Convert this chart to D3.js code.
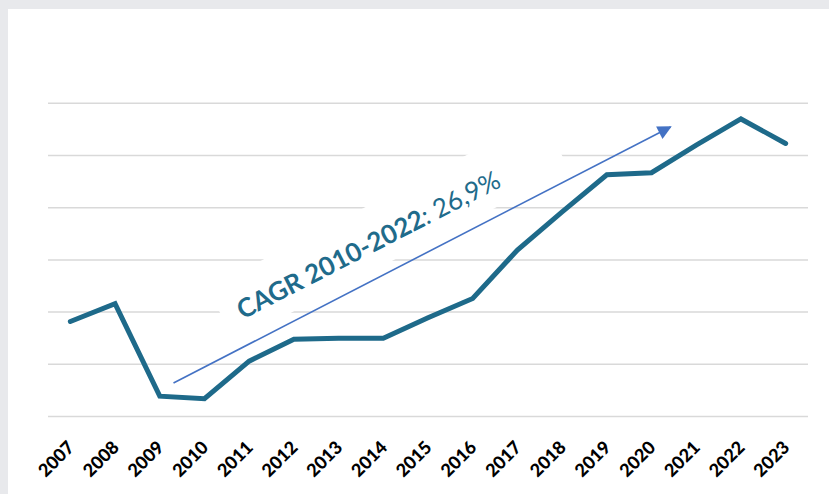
<!DOCTYPE html>
<html>
<head>
<meta charset="utf-8">
<script src="https://cdn.jsdelivr.net/npm/d3@7"></script>
<style>
  html, body { margin: 0; padding: 0; background: #e8e9ec; }
  svg { display: block; }
</style>
</head>
<body>
<svg id="chart" width="829" height="494"></svg>
<script>
// Yearly series (index units, gridline every 1.0)
const years = ["2007","2008","2009","2010","2011","2012","2013","2014","2015",
               "2016","2017","2018","2019","2020","2021","2022","2023"];
const values = [1.82, 2.16, 0.39, 0.34, 1.06, 1.48, 1.50, 1.50, 1.89,
                2.26, 3.19, 3.92, 4.63, 4.67, 5.20, 5.70, 5.23];
const gridTicks = [0, 1, 2, 3, 4, 5, 6];
const labelBold = "CAGR 2010-2022";
const labelRest = ": 26,9%";

const svg = d3.select("#chart");
const W = 829, H = 494;

// White chart panel on the grey page
svg.append("rect").attr("x", 8).attr("y", 9).attr("width", W - 8).attr("height", H - 9)
  .attr("fill", "#ffffff");

const x = d3.scaleBand().domain(years).range([48, 808]).padding(0);
const y = d3.scaleLinear().domain([0, 6]).range([416.5, 103.3]);
const cx = d => x(d) + x.bandwidth() / 2;

// Horizontal gridlines
svg.append("g").selectAll("line").data(gridTicks).join("line")
  .attr("x1", 48).attr("x2", 808)
  .attr("y1", d => y(d)).attr("y2", d => y(d))
  .attr("stroke", "#d9d9d9").attr("stroke-width", 1.5);

// Category labels, rotated
const xAxis = d3.axisBottom(x).tickSize(0).tickPadding(0);
const gx = svg.append("g").attr("transform", `translate(0,${y(0)})`).call(xAxis);
gx.select(".domain").remove();
gx.selectAll("text")
  .attr("font-family", "Lato, 'Open Sans', sans-serif")
  .attr("font-weight", "900")
  .attr("font-size", 18)
  .attr("fill", "#000")
  .attr("text-anchor", "end")
  .attr("dy", null)
  .attr("y", 0)
  .attr("transform", "translate(5,32) rotate(-45)");

// CAGR annotation: white text box that masks the gridlines
const note = svg.append("g").attr("transform", "translate(368,244) rotate(-27.2)");
note.append("rect").attr("x", -163).attr("y", -34).attr("width", 376).attr("height", 60)
  .attr("fill", "#ffffff");
const t = note.append("text")
  .attr("text-anchor", "middle")
  .attr("dominant-baseline", "central")
  .attr("font-family", "Lato, 'Open Sans', sans-serif")
  .attr("font-size", 26)
  .attr("fill", "#1f6b8b");
t.append("tspan").attr("font-weight", "bold").text(labelBold);
t.append("tspan").attr("font-weight", "normal").text(labelRest);

// Trend arrow
const defs = svg.append("defs");
defs.append("marker").attr("id", "arrowHead")
  .attr("viewBox", "0 0 10 10").attr("refX", 9).attr("refY", 5)
  .attr("markerUnits", "userSpaceOnUse")
  .attr("markerWidth", 17).attr("markerHeight", 14)
  .attr("orient", "auto")
  .append("path").attr("d", "M0,0 L10,5 L0,10 Z").attr("fill", "#4472c4");
svg.append("line")
  .attr("x1", 173.5).attr("y1", 383)
  .attr("x2", 670.5).attr("y2", 127)
  .attr("stroke", "#4472c4").attr("stroke-width", 1.6)
  .attr("marker-end", "url(#arrowHead)");

// Series line
const line = d3.line().x((d, i) => cx(years[i])).y(d => y(d));
svg.append("path").datum(values)
  .attr("d", line)
  .attr("fill", "none")
  .attr("stroke", "#1e6a8a")
  .attr("stroke-width", 5)
  .attr("stroke-linejoin", "miter")
  .attr("stroke-linecap", "round");
</script>
</body>
</html>
